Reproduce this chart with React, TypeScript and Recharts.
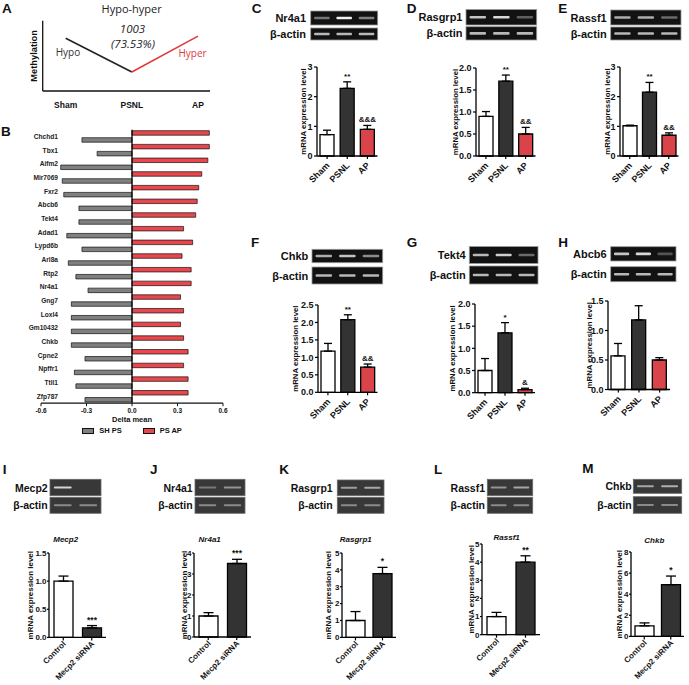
import React from 'react';
import { BarChart, Bar, XAxis, YAxis, ErrorBar, Cell, LabelList, LineChart, Line, ReferenceLine, Legend } from 'recharts';

const ARIAL = "'Liberation Sans', Arial, Helvetica, sans-serif";
const SOFT = "'Open Sans', 'Liberation Sans', sans-serif";
const INK = '#111';

// ---------- Panel A
const methylStages = ['Sham', 'PSNL', 'AP'];
const hypoTrend = [0.75, 0.27, null];
const hyperTrend = [null, 0.27, 0.78];

// ---------- Panel B
const geneNames = ['Chchd1', 'Tbx1', 'Aifm2', 'Mir7069', 'Fxr2', 'Abcb6', 'Tekt4', 'Adad1', 'Lypd6b', 'Arl8a', 'Rtp2', 'Nr4a1', 'Gng7', 'Loxl4', 'Gm10432', 'Chkb', 'Cpne2', 'Npffr1', 'Ttll1', 'Zfp787'];
const shPsDelta = [-0.33, -0.23, -0.47, -0.46, -0.45, -0.35, -0.35, -0.43, -0.33, -0.42, -0.37, -0.29, -0.40, -0.40, -0.40, -0.40, -0.31, -0.38, -0.37, -0.31];
const psApDelta = [0.51, 0.51, 0.50, 0.46, 0.44, 0.43, 0.42, 0.34, 0.40, 0.33, 0.39, 0.39, 0.32, 0.34, 0.32, 0.34, 0.37, 0.34, 0.37, 0.37];
const deltaTicks = [-0.6, -0.3, 0, 0.3, 0.6];

// ---------- Panels C-H
const painGroups = ['Sham', 'PSNL', 'AP'];
const painFills = ['#ffffff', '#333333', '#d9434a'];
const nr4a1Mean = [0.72, 2.28, 0.9];
const nr4a1Sem = [0.15, 0.22, 0.13];
const nr4a1Sig = ['', '**', '&&&'];
const rasgrp1Mean = [0.9, 1.7, 0.5];
const rasgrp1Sem = [0.11, 0.14, 0.15];
const rasgrp1Sig = ['', '**', '&&'];
const rassf1Mean = [1.02, 2.15, 0.7];
const rassf1Sem = [0.02, 0.33, 0.08];
const rassf1Sig = ['', '**', '&&'];
const chkbMean = [1.18, 2.08, 0.72];
const chkbSem = [0.22, 0.14, 0.09];
const chkbSig = ['', '**', '&&'];
const tekt4Mean = [0.5, 1.35, 0.07];
const tekt4Sem = [0.27, 0.23, 0.03];
const tekt4Sig = ['', '*', '&'];
const abcb6Mean = [0.57, 1.18, 0.5];
const abcb6Sem = [0.21, 0.24, 0.04];
const abcb6Sig = ['', '', ''];
const ticks0to3 = [0, 1, 2, 3];
const ticks0to2 = [0, 0.5, 1, 1.5, 2];
const ticks0to25 = [0, 0.5, 1, 1.5, 2, 2.5];
const ticks0to15 = [0, 0.5, 1, 1.5];

// ---------- Panels I-M
const siGroups = ['Control', 'Mecp2 siRNA'];
const siFills = ['#ffffff', '#333333'];
const siMecp2Mean = [1.0, 0.17];
const siMecp2Sem = [0.09, 0.04];
const siMecp2Sig = ['', '***'];
const siNr4a1Mean = [1.0, 3.5];
const siNr4a1Sem = [0.16, 0.2];
const siNr4a1Sig = ['', '***'];
const siRasgrp1Mean = [1.0, 3.78];
const siRasgrp1Sem = [0.53, 0.37];
const siRasgrp1Sig = ['', '*'];
const siRassf1Mean = [1.0, 4.0];
const siRassf1Sem = [0.23, 0.35];
const siRassf1Sig = ['', '**'];
const siChkbMean = [1.0, 4.9];
const siChkbSem = [0.28, 0.82];
const siChkbSig = ['', '*'];
const siTicks15 = [0, 0.5, 1, 1.5];
const siTicks4 = [0, 1, 2, 3, 4];
const siTicks5 = [0, 1, 2, 3, 4, 5];
const siTicks8 = [0, 2, 4, 6, 8];

// ---------- gel band intensities (lanes)
const gelNr4a1 = [0.45, 1, 0.5];
const gelRasgrp1 = [0.8, 0.9, 0.35];
const gelRassf1 = [0.7, 0.7, 0.4];
const gelChkb = [0.7, 0.8, 0.55];
const gelTekt4 = [0.75, 0.85, 0.4];
const gelAbcb6 = [0.8, 0.9, 0.3];
const gelActin3 = [0.75, 0.75, 0.75];
const gelSiMecp2 = [0.85, 0];
const gelSiNr4a1 = [0.35, 0.5];
const gelSiRasgrp1 = [0.55, 0.6];
const gelSiRassf1 = [0.5, 0.6];
const gelSiChkb = [0.6, 0.65];
const gelSiActin = [0.45, 0.45];

// ---------- helpers
const YTitle = (lp: any) => {
  const vb = lp.viewBox || { x: 0, y: 0, width: 0, height: 0 };
  const cx = vb.x + vb.width - lp.off;
  const cy = vb.y + vb.height / 2;
  return (
    <text x={cx} y={cy} transform={`rotate(-90 ${cx} ${cy})`} textAnchor="middle" dominantBaseline="central"
      fontSize={lp.fs} fontWeight="bold" fontFamily={ARIAL} fill={INK}>{lp.text}</text>
  );
};

const XTitle = (lp: any) => {
  const vb = lp.viewBox || { x: 0, y: 0, width: 0, height: 0 };
  return (
    <text x={vb.x + vb.width / 2} y={vb.y + lp.dy} textAnchor="middle" dominantBaseline="central"
      fontSize={lp.fs} fontWeight="bold" fontFamily={ARIAL} fill={INK}>{lp.text}</text>
  );
};

const RotTick = (t: any) => {
  const { x, y, payload, fs, ody } = t;
  return (
    <g transform={`translate(${Number(x) + 3},${Number(y) + ody})`}>
      <text transform="rotate(-45)" textAnchor="end" fontSize={fs} fontWeight="bold" fontFamily={ARIAL} fill={INK}>{payload.value}</text>
    </g>
  );
};

const SigLabel = (lp: any) => {
  const { value, data, fs } = lp;
  if (!value) return null;
  let idx = typeof lp.index === 'number' ? lp.index : -1;
  if (idx < 0 || !data[idx] || data[idx].sig !== value) idx = data.findIndex((d: any) => d.sig === value);
  const d = data[idx];
  const x = Number(lp.x), y = Number(lp.y), w = Number(lp.width), h = Number(lp.height);
  const errTop = y - h * (d.sem[1] / d.mean);
  return (
    <text x={x + w / 2} y={errTop - 3} textAnchor="middle" fontSize={fs} fontWeight="bold" fontFamily={ARIAL} fill={INK}>{value}</text>
  );
};

type ExprProps = {
  axisX: number; topY: number; zeroY: number; plotW: number;
  cats: string[]; mean: number[]; sem: number[]; sig: string[]; fills: string[];
  yMax: number; ticks: number[]; decimals: number;
  titleOff: number; titleFs: number; barSize: number; tickFs: number; catFs: number; sigFs: number; capW: number;
  tSize: number; tMargin: number; catDy: number; xh: number;
};

function ExprChart(p: ExprProps) {
  const YW = 44, MT = 14, MR = 4, XH = p.xh;
  const plotH = p.zeroY - p.topY;
  const data = p.cats.map((c, i) => ({ cat: c, mean: p.mean[i], sem: [0, p.sem[i]], sig: p.sig[i], fill: p.fills[i] }));
  return (
    <div style={{ position: 'absolute', left: p.axisX - YW, top: p.topY - MT }}>
      <BarChart width={YW + p.plotW + MR} height={MT + plotH + XH} data={data}
        margin={{ top: MT, right: MR, left: 0, bottom: 0 }}>
        <XAxis dataKey="cat" height={XH} interval={0} axisLine={{ stroke: '#000', strokeWidth: 1.3 }}
          tickLine={{ stroke: '#000', strokeWidth: 1.2 }} tickSize={3} tickMargin={2}
          tick={(t: any) => <RotTick {...t} fs={p.catFs} ody={p.catDy} />} />
        <YAxis width={YW} type="number" domain={[0, p.yMax]} ticks={p.ticks} interval={0}
          tickFormatter={(v: number) => v.toFixed(p.decimals)}
          axisLine={{ stroke: '#000', strokeWidth: 1.3 }} tickLine={{ stroke: '#000', strokeWidth: 1.2 }}
          tickSize={p.tSize} tickMargin={p.tMargin}
          tick={{ fontSize: p.tickFs, fontWeight: 'bold', fill: INK, fontFamily: ARIAL }}
          label={<YTitle off={p.titleOff} fs={p.titleFs} text="mRNA expression level" />} />
        <Bar dataKey="mean" barSize={p.barSize} stroke="#000" strokeWidth={1.3} isAnimationActive={false}>
          {data.map((d, i) => <Cell key={i} fill={d.fill} />)}
          <ErrorBar dataKey="sem" width={p.capW} stroke="#000" strokeWidth={1.3} direction="y" isAnimationActive={false} />
          <LabelList dataKey="sig" content={(lp: any) => <SigLabel {...lp} data={data} fs={p.sigFs} />} />
        </Bar>
      </BarChart>
    </div>
  );
}

function HypoHyperChart() {
  const data = methylStages.map((s, i) => ({ stage: s, hypo: hypoTrend[i], hyper: hyperTrend[i] }));
  return (
    <div style={{ position: 'absolute', left: 20, top: 10 }}>
      <LineChart width={195} height={101} data={data} margin={{ top: 10.7, right: 5, left: 0, bottom: 0 }}>
        <XAxis dataKey="stage" height={20} interval={0} axisLine={{ stroke: INK, strokeWidth: 1.3 }} tickLine={false}
          tickSize={6} tickMargin={5} padding={{ left: 23, right: 12 }}
          tick={{ fontSize: 8.5, fontWeight: 'bold', fill: INK, fontFamily: ARIAL }} />
        <YAxis width={22.7} domain={[0, 1]} tick={false} tickLine={false} axisLine={{ stroke: INK, strokeWidth: 1.3 }}
          label={<YTitle off={8.7} fs={9.3} text="Methylation" />} />
        <Line dataKey="hypo" stroke="#222" strokeWidth={1.6} dot={false} isAnimationActive={false} />
        <Line dataKey="hyper" stroke="#e0393e" strokeWidth={1.6} dot={false} isAnimationActive={false} />
      </LineChart>
    </div>
  );
}

const GeneTick = (t: any) => (
  <text x={47} y={Number(t.y)} dy={2.3} textAnchor="end" fontSize={6.6} fontWeight="bold" fontFamily={ARIAL} fill="#222">
    {t.payload.value}
  </text>
);

const DeltaLegend = (lp: any) => {
  const items = [...(lp.payload || [])].reverse();
  return (
    <div style={{ display: 'flex', justifyContent: 'center', alignItems: 'center', height: 10, gap: 21 }}>
      {items.map((it: any) => (
        <div key={it.value} style={{ display: 'flex', alignItems: 'center' }}>
          <div style={{ width: 10, height: 4, background: it.color, border: '1px solid #111', marginRight: 5 }} />
          <span style={{ fontSize: 7.5, fontWeight: 'bold', fontFamily: ARIAL, color: INK, lineHeight: '10px' }}>{it.value}</span>
        </div>
      ))}
    </div>
  );
};

function DeltaChart() {
  const data = geneNames.map((g, i) => ({ gene: g, psAp: psApDelta[i], shPs: shPsDelta[i] }));
  return (
    <div style={{ position: 'absolute', left: 11, top: 120 }}>
      <BarChart layout="vertical" width={220} height={330} data={data}
        margin={{ top: 9.7, right: 8, left: 0, bottom: 24.8 }} barSize={4.5} barGap={2.5}>
        <XAxis type="number" domain={[-0.6, 0.6]} ticks={deltaTicks} interval={0} height={22}
          tickFormatter={(v: number) => v.toFixed(1)}
          axisLine={{ stroke: INK, strokeWidth: 1.2 }} tickLine={{ stroke: INK, strokeWidth: 1 }} tickSize={3} tickMargin={2}
          tick={{ fontSize: 6.5, fontWeight: 'bold', fill: INK, fontFamily: ARIAL }}
          label={<XTitle dy={16} fs={7.5} text="Delta mean" />} />
        <YAxis type="category" dataKey="gene" width={30} axisLine={false} tickLine={false} interval={0} tick={GeneTick} />
        <ReferenceLine x={0} stroke="#000" strokeWidth={1.3} />
        <Bar dataKey="psAp" name="PS AP" fill="#e8474d" stroke="#111" strokeWidth={0.7} isAnimationActive={false} />
        <Bar dataKey="shPs" name="SH PS" fill="#808080" stroke="#111" strokeWidth={0.7} isAnimationActive={false} />
        <Legend layout="horizontal" verticalAlign="middle" align="center"
          wrapperStyle={{ left: 30, top: 306, width: 182, height: 10 }} content={(lp: any) => <DeltaLegend {...lp} />} />
      </BarChart>
    </div>
  );
}

type GelSpec = {
  name: string; x: number; w: number; y1: number; h1: number; y2: number; h2: number;
  lanes: number[]; actin: number[]; labelEnd: number; dark: boolean;
};

const gels: GelSpec[] = [
  { name: 'Nr4a1', x: 310.7, w: 67, y1: 11, h1: 14, y2: 28, h2: 12, lanes: gelNr4a1, actin: gelActin3, labelEnd: 306, dark: true },
  { name: 'Rasgrp1', x: 466, w: 70.7, y1: 9.5, h1: 15.5, y2: 26.7, h2: 13.3, lanes: gelRasgrp1, actin: gelActin3, labelEnd: 462.5, dark: true },
  { name: 'Rassf1', x: 610.7, w: 70.3, y1: 10, h1: 15, y2: 27, h2: 13, lanes: gelRassf1, actin: gelActin3, labelEnd: 606.7, dark: true },
  { name: 'Chkb', x: 312, w: 70.7, y1: 249.3, h1: 13.4, y2: 267, h2: 17, lanes: gelChkb, actin: gelActin3, labelEnd: 308.3, dark: true },
  { name: 'Tekt4', x: 469.3, w: 68.7, y1: 246.5, h1: 17, y2: 266, h2: 18, lanes: gelTekt4, actin: gelActin3, labelEnd: 465.7, dark: true },
  { name: 'Abcb6', x: 610.7, w: 65.3, y1: 246.7, h1: 14.3, y2: 266.7, h2: 15, lanes: gelAbcb6, actin: gelActin3, labelEnd: 606.7, dark: true },
  { name: 'Mecp2', x: 50, w: 51, y1: 479.3, h1: 16.4, y2: 497.3, h2: 16, lanes: gelSiMecp2, actin: gelSiActin, labelEnd: 47.7, dark: false },
  { name: 'Nr4a1', x: 195, w: 50, y1: 479.3, h1: 16.4, y2: 497.3, h2: 16, lanes: gelSiNr4a1, actin: gelSiActin, labelEnd: 192.7, dark: false },
  { name: 'Rasgrp1', x: 337.3, w: 46.7, y1: 480, h1: 15.7, y2: 497.3, h2: 16, lanes: gelSiRasgrp1, actin: gelSiActin, labelEnd: 332.7, dark: false },
  { name: 'Rassf1', x: 487.3, w: 45.4, y1: 479.3, h1: 16.4, y2: 497.3, h2: 16, lanes: gelSiRassf1, actin: gelSiActin, labelEnd: 485, dark: false },
  { name: 'Chkb', x: 633.3, w: 48.4, y1: 479.3, h1: 14, y2: 496.7, h2: 16.6, lanes: gelSiChkb, actin: gelSiActin, labelEnd: 631.7, dark: false },
];

function GelStrip({ x, y, w, h, lanes, dark }: { x: number; y: number; w: number; h: number; lanes: number[]; dark: boolean }) {
  const lw = w / lanes.length;
  const bandH = dark ? 2.6 : 2;
  return (
    <g>
      <rect x={x} y={y} width={w} height={h} fill={dark ? '#121212' : '#383838'} stroke={dark ? '#9a9a9a' : '#6a6a6a'} strokeWidth={0.8} />
      {lanes.map((v, i) => v > 0 ? (
        <rect key={i} x={x + i * lw + lw * 0.15} y={y + h / 2 - bandH / 2} width={lw * 0.7} height={bandH}
          fill={`rgba(240,240,240,${v})`} rx={1} />
      ) : null)}
    </g>
  );
}

const panelLetters: [string, number, number][] = [
  ['A', 2, 13.3], ['B', 1, 135.7], ['C', 251.7, 12.7], ['D', 406.7, 12.7], ['E', 558.3, 12.7],
  ['F', 251, 247.3], ['G', 406.7, 247.3], ['H', 558.3, 247.3],
  ['I', 2.7, 474], ['J', 150, 474], ['K', 279.3, 474], ['L', 434, 474], ['M', 582.3, 473],
];

const siTitles: [string, number, number][] = [
  ['Mecp2', 65.7, 539.3], ['Nr4a1', 209.7, 539.3], ['Rasgrp1', 355.8, 539.3], ['Rassf1', 506.7, 537.7], ['Chkb', 654.3, 540],
];

function Overlay() {
  return (
    <svg width={689} height={685} style={{ position: 'absolute', left: 0, top: 0 }}>
      {panelLetters.map(([t, x, y]) => (
        <text key={t} x={x} y={y} fontSize={13.5} fontWeight="bold" fontFamily={ARIAL} fill={INK}>{t}</text>
      ))}
      <text x={131.7} y={8} textAnchor="middle" dominantBaseline="central" fontSize={11} fontFamily={SOFT} fill="#222">Hypo-hyper</text>
      <text x={132.5} y={28} textAnchor="middle" dominantBaseline="central" fontSize={11.5} fontStyle="italic" fontFamily={SOFT} fill="#222">1003</text>
      <text x={133} y={43} textAnchor="middle" dominantBaseline="central" fontSize={11.5} fontStyle="italic" fontFamily={SOFT} fill="#222">(73.53%)</text>
      <text x={68} y={52} textAnchor="middle" dominantBaseline="central" fontSize={10} fontFamily={SOFT} fill="#333">Hypo</text>
      <text x={192.5} y={52.5} textAnchor="middle" dominantBaseline="central" fontSize={10} fontFamily={SOFT} fill="#e0393e">Hyper</text>
      {gels.map((g, i) => (
        <g key={i}>
          <GelStrip x={g.x} y={g.y1} w={g.w} h={g.h1} lanes={g.lanes} dark={g.dark} />
          <GelStrip x={g.x} y={g.y2} w={g.w} h={g.h2} lanes={g.actin} dark={g.dark} />
          <text x={g.labelEnd} y={g.y1 + g.h1 / 2} textAnchor="end" dominantBaseline="central" fontSize={g.dark ? 11 : 10.5}
            fontWeight="bold" fontFamily={ARIAL} fill={INK}>{g.name}</text>
          <text x={g.labelEnd} y={g.y2 + g.h2 / 2} textAnchor="end" dominantBaseline="central" fontSize={g.dark ? 11 : 10.5}
            fontWeight="bold" fontFamily={ARIAL} fill={INK}>β-actin</text>
        </g>
      ))}
      {siTitles.map(([t, x, y], i) => (
        <text key={i} x={x} y={y} textAnchor="middle" dominantBaseline="central" fontSize={8} fontStyle="italic" fontWeight="bold"
          fontFamily={ARIAL} fill={INK}>{t}</text>
      ))}
    </svg>
  );
}

const painCommon = { cats: painGroups, fills: painFills, barSize: 14, tickFs: 9, catFs: 9, sigFs: 8, capW: 4, titleFs: 7.8, tSize: 3, tMargin: 1.5, catDy: 5, xh: 60 };
const siCommon = { cats: siGroups, fills: siFills, barSize: 19, tickFs: 8, catFs: 8, sigFs: 8.5, capW: 5, titleFs: 8, tSize: 2, tMargin: 0.5, catDy: 2, xh: 46 };

export default function App() {
  return (
    <div style={{ position: 'absolute', left: 0, top: 0, width: 689, height: 685, background: '#fff', fontFamily: ARIAL, overflow: 'hidden' }}>
      <Overlay />
      <HypoHyperChart />
      <DeltaChart />
      <ExprChart {...painCommon} axisX={317.3} topY={66.7} zeroY={155.7} plotW={60.5} mean={nr4a1Mean} sem={nr4a1Sem} sig={nr4a1Sig} yMax={3} ticks={ticks0to3} decimals={0} titleOff={14} />
      <ExprChart {...painCommon} axisX={475.7} topY={67.7} zeroY={155.7} plotW={59.5} mean={rasgrp1Mean} sem={rasgrp1Sem} sig={rasgrp1Sig} yMax={2} ticks={ticks0to2} decimals={1} titleOff={21} />
      <ExprChart {...painCommon} axisX={620} topY={66.7} zeroY={155.7} plotW={58.5} mean={rassf1Mean} sem={rassf1Sem} sig={rassf1Sig} yMax={3} ticks={ticks0to3} decimals={0} titleOff={13} />
      <ExprChart {...painCommon} axisX={317.7} topY={305} zeroY={392.3} plotW={59.5} mean={chkbMean} sem={chkbSem} sig={chkbSig} yMax={2.5} ticks={ticks0to25} decimals={1} titleOff={22} />
      <ExprChart {...painCommon} axisX={475} topY={304.3} zeroY={393} plotW={60} mean={tekt4Mean} sem={tekt4Sem} sig={tekt4Sig} yMax={2} ticks={ticks0to2} decimals={1} titleOff={23} />
      <ExprChart {...painCommon} axisX={608.3} topY={301} zeroY={389.5} plotW={62} mean={abcb6Mean} sem={abcb6Sem} sig={abcb6Sig} yMax={1.5} ticks={ticks0to15} decimals={1} titleOff={19} />
      <ExprChart {...siCommon} axisX={49.3} topY={553.3} zeroY={637.7} plotW={57} mean={siMecp2Mean} sem={siMecp2Sem} sig={siMecp2Sig} yMax={1.5} ticks={siTicks15} decimals={1} titleOff={18} />
      <ExprChart {...siCommon} axisX={194} topY={553.3} zeroY={637.3} plotW={57} mean={siNr4a1Mean} sem={siNr4a1Sem} sig={siNr4a1Sig} yMax={4} ticks={siTicks4} decimals={0} titleOff={10} />
      <ExprChart {...siCommon} axisX={341.7} topY={553.3} zeroY={637.7} plotW={54} mean={siRasgrp1Mean} sem={siRasgrp1Sem} sig={siRasgrp1Sig} yMax={5} ticks={siTicks5} decimals={0} titleOff={13} />
      <ExprChart {...siCommon} axisX={481.7} topY={544.3} zeroY={635} plotW={58} mean={siRassf1Mean} sem={siRassf1Sem} sig={siRassf1Sig} yMax={5} ticks={siTicks5} decimals={0} titleOff={10.5} />
      <ExprChart {...siCommon} axisX={630.7} topY={552.3} zeroY={636.7} plotW={53} mean={siChkbMean} sem={siChkbSem} sig={siChkbSig} yMax={8} ticks={siTicks8} decimals={0} titleOff={11} />
    </div>
  );
}
